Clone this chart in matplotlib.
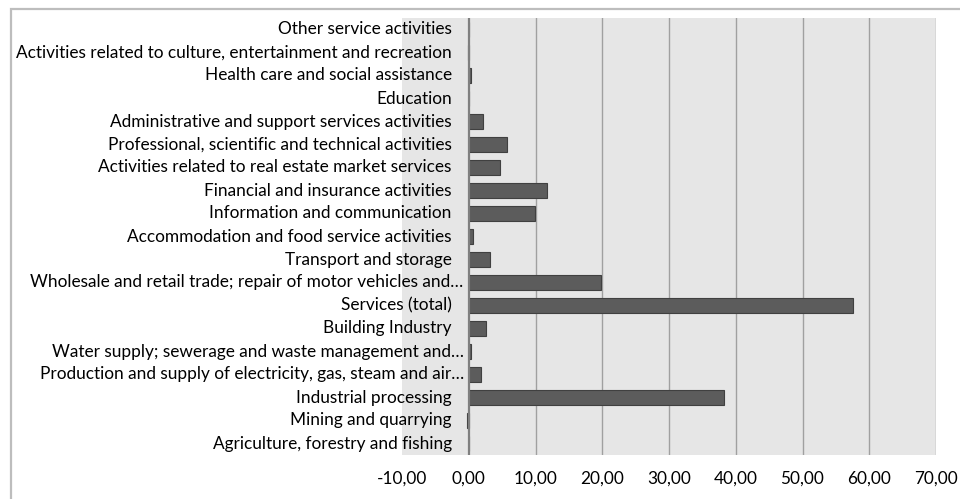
import matplotlib.pyplot as plt
import matplotlib.transforms as mtransforms
from matplotlib.patches import Rectangle

plt.rcParams['font.family'] = ['Lato', 'DejaVu Sans']

# categories from bottom to top
categories = [
    "Agriculture, forestry and fishing",
    "Mining and quarrying",
    "Industrial processing",
    "Production and supply of electricity, gas, steam and air\u2026",
    "Water supply; sewerage and waste management and\u2026",
    "Building Industry",
    "Services (total)",
    "Wholesale and retail trade; repair of motor vehicles and\u2026",
    "Transport and storage",
    "Accommodation and food service activities",
    "Information and communication",
    "Financial and insurance activities",
    "Activities related to real estate market services",
    "Professional, scientific and technical activities",
    "Administrative and support services activities",
    "Education",
    "Health care and social assistance",
    "Activities related to culture, entertainment and recreation",
    "Other service activities",
]
values = [0.05, -0.2, 38.2, 1.9, 0.3, 2.6, 57.5, 19.8, 3.15, 0.6,
          9.95, 11.75, 4.75, 5.8, 2.2, 0.0, 0.35, -0.1, 0.05]
xticks = [-10, 0, 10, 20, 30, 40, 50, 60, 70]

W, H = 960, 499
fig = plt.figure(figsize=(W / 100, H / 100), dpi=100)

# outer chart border (top and left visible)
fig.patches.append(Rectangle((10.5 / W, -0.1), 1.2, (499 - 8.5) / H + 0.1,
                             transform=fig.transFigure, fill=False,
                             edgecolor='#BDBDBD', linewidth=1.6))

ax = fig.add_axes([402 / W, (H - 455) / H, (936 - 402) / W, (455 - 18) / H])
ax.set_facecolor('#E6E6E6')
for s in ax.spines.values():
    s.set_visible(False)

ypos = list(range(len(categories)))
ax.barh(ypos, values, height=0.62, color='#5C5C5C', edgecolor='#404040', linewidth=0.8, zorder=3)

ax.set_xlim(-10, 70)
ax.set_ylim(-0.5, len(categories) - 0.5)
for x in xticks[1:]:
    if x == 0:
        continue
    ax.axvline(x, color='#A0A0A0', linewidth=1.0, zorder=1)
ax.axvline(0, color='#7F7F7F', linewidth=1.6, zorder=4)

ax.set_xticks(xticks)
ax.set_xticklabels([("%.2f" % t).replace('.', ',') for t in xticks])
ax.tick_params(axis='x', length=0, pad=11, labelsize=12.4, colors='#000000')
ax.set_yticks([])

for i, lab in enumerate(categories):
    dx = -5 if lab.endswith('\u2026') else -17
    tr = mtransforms.offset_copy(ax.transData, fig=fig, x=dx, y=0, units='dots')
    ax.text(0, i, lab, ha='right', va='center', fontsize=12.4, transform=tr, zorder=5)

fig.savefig('out.png', dpi=100)
